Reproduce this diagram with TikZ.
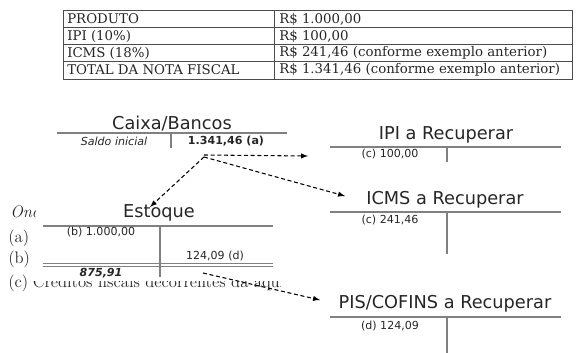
\documentclass[tikz,border=0pt]{standalone}
\usepackage{fontspec}
\newfontfamily\tabfont{DejaVu Serif}
\newfontfamily\contafont{DejaVu Sans}
\usetikzlibrary{arrows,positioning}
\tikzset{razao/.style={draw=gray,line width=1.1pt}}
\tikzset{grade/.style={draw=black!70,line width=0.7pt}}
\tikzset{titulo/.style={font=\contafont\fontsize{13.3}{15}\selectfont,text=black!85,inner sep=0pt}}
\tikzset{lanc/.style={font=\contafont\fontsize{8.3}{9}\selectfont,text=black!85,inner sep=0pt}}
\tikzset{celula/.style={font=\tabfont\fontsize{10}{11}\selectfont,text=black!85,anchor=west,inner sep=0pt}}
\tikzset{fundo/.style={font=\fontsize{12.5}{14}\selectfont,text=black!85,anchor=base west,inner sep=0pt}}
\tikzset{fluxo/.style={-latex,thick,dash pattern=on 3pt off 2pt}}

\begin{document}
\begin{tikzpicture}[x=0.75pt,y=-0.75pt]
  \useasboundingbox (0,0) rectangle (579,353);
  % tabela
  \draw[grade] (63,10) rectangle (572,79);
  \foreach \y in {27.5,44.5,61.5}
    \draw[grade] (63,\y) -- (572,\y);
  \draw[grade] (274,10) -- (274,79);
  \node[celula] (produto) at (67,19) {PRODUTO};
  \node[celula] (ipi) at (67,36) {IPI (10\%)};
  \node[celula] (icms) at (67,53) {ICMS (18\%)};
  \node[celula] (total) at (67,70) {TOTAL DA NOTA FISCAL};
  \node[celula] (vproduto) at (279,19) {R\$ 1.000,00};
  \node[celula] (vipi) at (279,36) {R\$ 100,00};
  \node[celula] (vicms) at (279,53) {R\$ 241,46 (conforme exemplo anterior)};
  \node[celula] (vtotal) at (279,70) {R\$ 1.341,46 (conforme exemplo anterior)};

  % texto do fundo
  \begin{scope}
    \clip (0,195) rectangle (35,300);
    \node[fundo] (onde) at (10,218) {\itshape Onde:};
  \end{scope}
  \node[fundo] (ia) at (8,242) {(a)};
  \node[fundo] (ib) at (8,263) {(b)};
  \node[fundo] (ic) at (8,287) {(c)};
  \begin{scope}
    \clip (30,281) rectangle (280,300);
    \node[fundo,right=3pt of ic.base east,anchor=base west] (credito) {Créditos fiscais decorrentes da aquisição};
  \end{scope}

  % Caixa/Bancos
  \node[titulo] (caixa) at (172,124) {Caixa/Bancos};
  \draw[razao] (57,133) -- (287,133);
  \draw[razao] (171,133) -- (171,148);
  \node[lanc] (saldo) at (114,141) {\itshape Saldo inicial};
  \node[lanc] (ca) at (226,141) {\bfseries 1.341,46 (a)};

  % Estoque
  \node[titulo] (estoque) at (159,213) {Estoque};
  \draw[razao] (43,226) -- (273,226);
  \draw[razao] (160,226) -- (160,277);
  \draw[razao] (43,263.5) -- (273,263.5);
  \draw[razao] (43,266.5) -- (273,266.5);
  \node[lanc] (eb) at (101,232) {(b) 1.000,00};
  \node[lanc] (ed) at (215,256) {124,09 (d)};
  \node[lanc] (esaldo) at (101,273) {\bfseries\itshape 875,91};

  % IPI a Recuperar
  \node[titulo] (ipirec) at (446,135) {IPI a Recuperar};
  \draw[razao] (330,147) -- (561,147);
  \draw[razao] (447,147) -- (447,162);
  \node[lanc] (ic1) at (390,154) {(c) 100,00};

  % ICMS a Recuperar
  \node[titulo] (icmsrec) at (445,200) {ICMS a Recuperar};
  \draw[razao] (330,212) -- (561,212);
  \draw[razao] (447,212) -- (447,254);
  \node[lanc] (ic2) at (390,220) {(c) 241,46};

  % PIS/COFINS a Recuperar
  \node[titulo] (pisrec) at (445,304) {PIS/COFINS a Recuperar};
  \draw[razao] (330,317) -- (561,317);
  \draw[razao] (447,317) -- (447,353);
  \node[lanc] (id) at (390,326) {(d) 124,09};

  % lancamentos
  \coordinate (scaixa) at (204,155);
  \coordinate (scaixab) at (204,157);
  \coordinate (sestoque) at (203,273);
  \coordinate (eipi) at (308,156);
  \coordinate (eicms) at (345,196);
  \coordinate (eest) at (150,207);
  \coordinate (epis) at (320,300);
  \draw[fluxo] (scaixa) -- (eipi);
  \draw[fluxo] (scaixab) -- (eicms);
  \draw[fluxo] (scaixab) -- (eest);
  \draw[fluxo] (sestoque) -- (epis);
\end{tikzpicture}
\end{document}
